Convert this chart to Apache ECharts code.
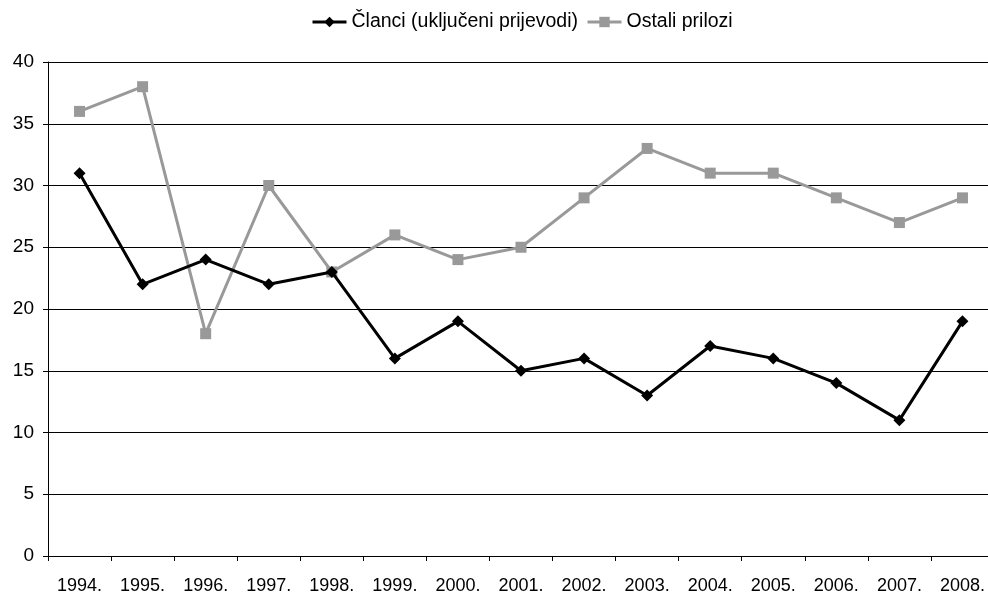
<!DOCTYPE html>
<html>
<head>
<meta charset="utf-8">
<script src="https://cdn.jsdelivr.net/npm/echarts@6/dist/echarts.min.js"></script>
<style>
  html, body { margin: 0; padding: 0; background: #fff; overflow: hidden; }
  #chart { width: 994px; height: 595px; }
</style>
</head>
<body>
<div id="chart"></div>
<script>
var years = ['1994.', '1995.', '1996.', '1997.', '1998.', '1999.', '2000.', '2001.',
  '2002.', '2003.', '2004.', '2005.', '2006.', '2007.', '2008.'];
var clanci = [31, 22, 24, 22, 23, 16, 19, 15, 16, 13, 17, 16, 14, 11, 19];
var ostali = [36, 38, 18, 30, 23, 26, 24, 25, 29, 33, 31, 31, 29, 27, 29];

// the plot runs a few px past the right edge in the original, so the div is wider
var chart = echarts.init(document.getElementById('chart'));

var font = 'Liberation Sans, Arial, sans-serif';

var option = {
  animation: false,
  textStyle: { fontFamily: font },
  legend: {
    top: 12,
    left: 311,
    padding: 0,
    itemWidth: 34,
    itemHeight: 13,
    itemGap: 8,
    lineStyle: { width: 3 },
    textStyle: { fontSize: 19.5, color: '#000', fontFamily: font },
    data: ['Članci (uključeni prijevodi)', 'Ostali prilozi']
  },
  grid: { left: 48, right: 0, top: 62, bottom: 38 },
  xAxis: {
    type: 'category',
    data: years,
    boundaryGap: true,
    axisLine: { lineStyle: { color: '#000', width: 1 } },
    axisTick: { show: true, length: 5, lineStyle: { color: '#000' } },
    axisLabel: { color: '#000', fontSize: 18, margin: 21, fontFamily: font }
  },
  yAxis: {
    type: 'value',
    min: 0,
    max: 40,
    interval: 5,
    axisLine: { show: true, lineStyle: { color: '#000', width: 1 } },
    axisTick: { show: true, length: 5, lineStyle: { color: '#000' } },
    axisLabel: { color: '#000', fontSize: 19, margin: 14, fontFamily: font },
    splitLine: { show: true, lineStyle: { color: '#000', width: 1 } }
  },
  series: [
    {
      name: 'Članci (uključeni prijevodi)',
      type: 'line',
      data: clanci,
      symbol: 'diamond',
      symbolSize: 12,
      lineStyle: { color: '#000', width: 3 },
      itemStyle: { color: '#000' },
      z: 3
    },
    {
      name: 'Ostali prilozi',
      type: 'line',
      data: ostali,
      symbol: 'rect',
      symbolSize: 11,
      lineStyle: { color: '#999', width: 3 },
      itemStyle: { color: '#999' },
      z: 2
    }
  ]
};

chart.setOption(option);
</script>
</body>
</html>
